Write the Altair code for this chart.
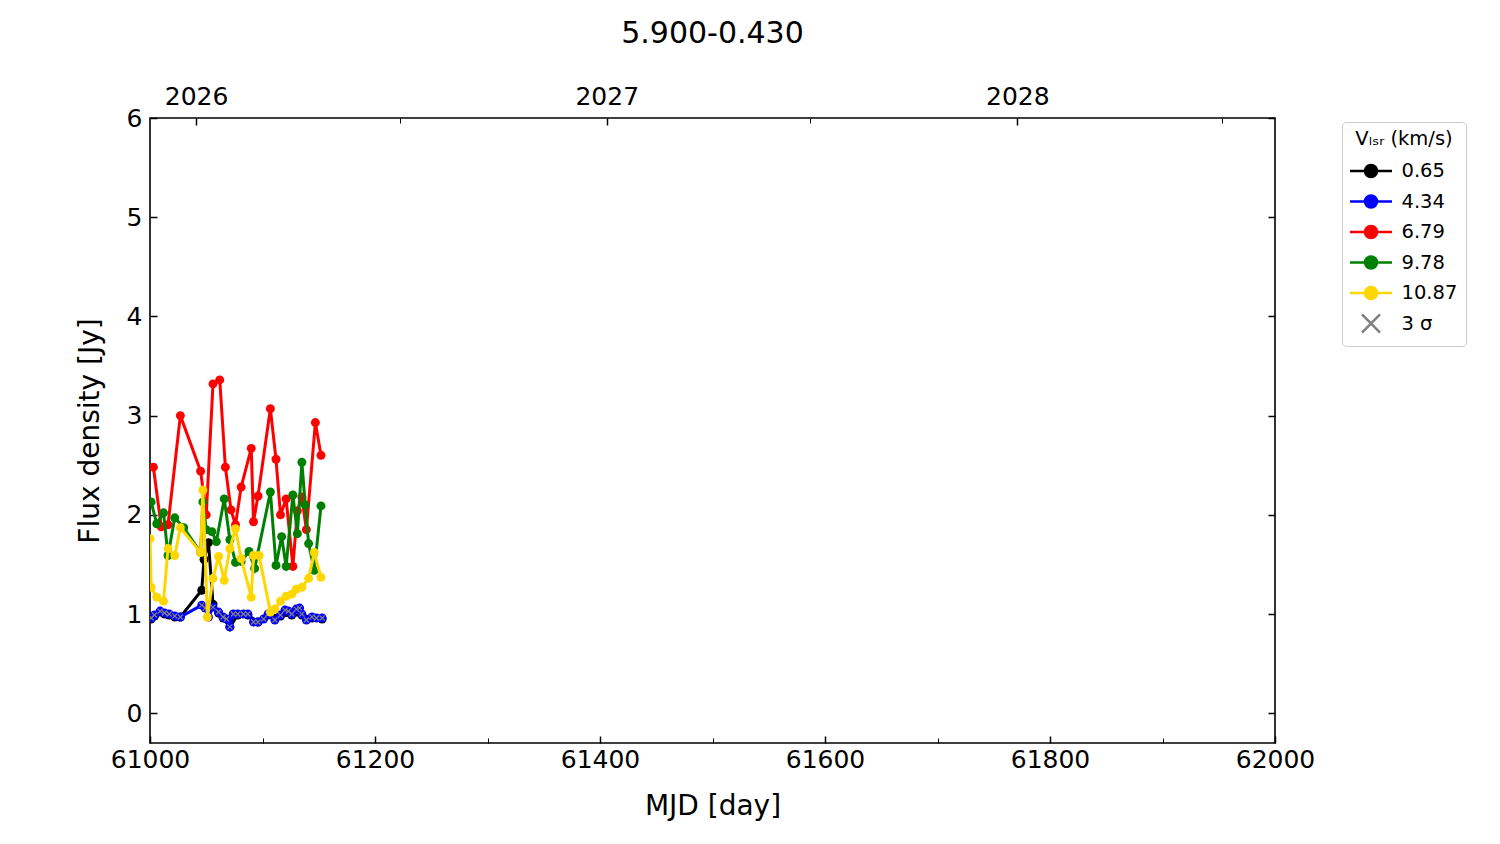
import altair as alt
import pandas as pd

FONT = "DejaVu Sans"

series_names = ["0.65", "4.34", "6.79", "9.78", "10.87"]
series_colors = ["#000000", "#0000ff", "#ff0000", "#008000", "#ffd700"]
sigma_name = "3 σ"
sigma_color = "#808080"

black_mjd = [61001, 61004, 61009, 61013, 61017, 61022, 61027, 61046, 61048, 61052, 61056, 61061,
             61065, 61071, 61078, 61087, 61096, 61105, 61116, 61126, 61135, 61144, 61153]
black_flux = [0.95, 0.98, 1.02, 1.00, 0.99, 0.97, 0.97, 1.24, 1.55, 1.72, 1.10, 1.01,
              0.96, 0.87, 0.99, 0.99, 0.92, 0.99, 0.98, 0.99, 0.99, 0.96, 0.95]

blue_mjd = [61001, 61004, 61009, 61013, 61017, 61022, 61027, 61046, 61049, 61052, 61056, 61061,
            61065, 61068, 61071, 61074, 61078, 61083, 61087, 61092, 61096, 61101, 61105, 61111,
            61116, 61120, 61123, 61126, 61130, 61133, 61135, 61139, 61144, 61148, 61153]
blue_flux = [0.96, 0.99, 1.03, 1.01, 1.00, 0.98, 0.97, 1.09, 1.06, 0.97, 1.07, 1.02,
             0.97, 0.95, 0.87, 1.00, 1.00, 1.00, 1.00, 0.92, 0.92, 0.95, 1.00, 0.94,
             0.99, 1.04, 1.03, 1.00, 1.05, 1.06, 1.00, 0.94, 0.97, 0.96, 0.96]

red_mjd = [61003, 61010, 61016, 61027, 61045, 61050, 61056, 61062, 61067, 61072, 61076, 61081,
           61090, 61092, 61096, 61107, 61112, 61116, 61121, 61127, 61131, 61135, 61139, 61147, 61152]
red_flux = [2.48, 1.88, 1.90, 3.00, 2.44, 2.00, 3.32, 3.36, 2.48, 2.05, 1.90, 2.28,
            2.67, 1.93, 2.19, 3.07, 2.56, 2.00, 2.16, 1.48, 2.04, 2.18, 1.85, 2.93, 2.60]

green_mjd = [61001, 61006, 61012, 61016, 61022, 61030, 61045, 61047, 61050, 61055, 61059, 61066,
             61071, 61076, 61081, 61088, 61093, 61107, 61112, 61117, 61121, 61127, 61131, 61135,
             61138, 61141, 61146, 61152]
green_flux = [2.13, 1.91, 2.02, 1.59, 1.97, 1.87, 1.62, 2.13, 1.85, 1.83, 1.73, 2.16,
              1.75, 1.52, 1.53, 1.63, 1.46, 2.23, 1.49, 1.78, 1.48, 2.20, 1.81, 2.53,
              2.10, 1.71, 1.44, 2.09]

yellow_mjd = [61000, 61001, 61006, 61012, 61016, 61022, 61027, 61045, 61047, 61051, 61056, 61061,
              61066, 61071, 61076, 61081, 61090, 61092, 61097, 61107, 61111, 61116, 61121, 61126,
              61130, 61135, 61141, 61146, 61152]
yellow_flux = [1.76, 1.27, 1.17, 1.13, 1.66, 1.59, 1.87, 1.62, 2.25, 0.97, 1.36, 1.58,
               1.34, 1.66, 1.86, 1.56, 1.17, 1.59, 1.59, 1.02, 1.05, 1.13, 1.18, 1.20,
               1.25, 1.27, 1.36, 1.62, 1.37]

sigma_mjd = list(blue_mjd)
sigma_flux = [0.96, 0.99, 1.03, 1.01, 1.00, 0.98, 0.97, 1.09, 1.06, 0.97, 1.07, 1.02,
              0.97, 0.95, 0.87, 1.00, 1.00, 1.00, 1.00, 0.92, 0.92, 0.95, 1.00, 0.94,
              0.99, 1.04, 1.03, 1.00, 1.05, 1.06, 1.00, 0.94, 0.97, 0.96, 0.96]

x_major = [61000, 61200, 61400, 61600, 61800, 62000]
x_minor = [61100, 61300, 61500, 61700, 61900]
y_ticks = [0, 1, 2, 3, 4, 5, 6]
year_mjd = [61041, 61406, 61771]
year_labels = ["2026", "2027", "2028"]
halfyear_mjd = [61222, 61587, 61953]

rows = []
for name, ms, fs in [(series_names[0], black_mjd, black_flux),
                     (series_names[1], blue_mjd, blue_flux),
                     (series_names[2], red_mjd, red_flux),
                     (series_names[3], green_mjd, green_flux),
                     (series_names[4], yellow_mjd, yellow_flux),
                     (sigma_name, sigma_mjd, sigma_flux)]:
    for m, f in zip(ms, fs):
        rows.append({"series": name, "mjd": m, "flux": f})
df = pd.DataFrame(rows)

xs = alt.Scale(domain=[61000, 62000], nice=False, zero=False)
ys = alt.Scale(domain=[-0.3, 6], nice=False, zero=False)
domain = series_names + [sigma_name]
crange = series_colors + [sigma_color]
cscale = alt.Scale(domain=domain, range=crange)

line_circle = "M-1.235,0L1.235,0M0.353,0A0.353,0.353,0,1,1,-0.353,0A0.353,0.353,0,1,1,0.353,0Z"
xpath_leg = "M-0.53,-0.53L0.53,0.53M-0.53,0.53L0.53,-0.53"
shape_range = [line_circle] * 5 + [xpath_leg]
xpath = "M-1,-1L1,1M-1,1L1,-1"

X = lambda ax=None: alt.X("mjd:Q", scale=xs, axis=ax)
Y = lambda ax=None: alt.Y("flux:Q", scale=ys, axis=ax)

layers = []
for name, col in zip(series_names, series_colors):
    line = alt.Chart().transform_filter(alt.datum.series == name).mark_line(
        strokeWidth=3, clip=True, color=col).encode(x=X(), y=Y())
    pts = alt.Chart().transform_filter(alt.datum.series == name).mark_point(
        filled=True, size=80, opacity=1, clip=True, color=col).encode(x=X(), y=Y())
    layers += [line, pts]
    if name == series_names[1]:
        cross = alt.Chart().transform_filter(alt.datum.series == sigma_name).mark_point(
            shape=xpath, filled=False, size=25, strokeWidth=1.2, opacity=1, clip=True,
            color=sigma_color).encode(x=X(), y=Y())
        layers.append(cross)

leg = alt.Legend(
    title="Vₗₛᵣ (km/s)", orient="none", legendX=1192, legendY=4,
    titleFont=FONT, titleFontSize=19.5, titleFontWeight="normal", titleColor="black",
    titleAnchor="middle", titlePadding=3,
    labelFont=FONT, labelFontSize=19.5, labelColor="black", labelOffset=12,
    symbolSize=1156, symbolStrokeWidth=2.5, symbolOffset=2.5, rowPadding=0.5,
    padding=8, strokeColor="#cccccc", fillColor="white", cornerRadius=4,
)
legend_layer = alt.Chart().mark_point(
    filled=True, strokeWidth=2.5, opacity=1, size=0, clip=True).encode(
    x=X(), y=alt.Y("legend_y:Q", scale=ys, axis=None),
    fill=alt.Fill("series:N", scale=cscale, legend=leg),
    stroke=alt.Stroke("series:N", scale=cscale, legend=leg),
    shape=alt.Shape("series:N", scale=alt.Scale(domain=domain, range=shape_range), legend=leg),
).transform_calculate(legend_y="-100")

common = dict(grid=False, domain=False, tickColor="black", labelColor="black",
              labelFont=FONT, titleFont=FONT, titleColor="black", titleFontWeight="normal")

ax_bottom = alt.Axis(orient="bottom", values=x_major, tickSize=7, offset=-7, tickWidth=1.5,
                     labelFontSize=25, labelPadding=4, format="d", labelFlush=False,
                     labelOverlap=False, title="MJD [day]", titleFontSize=28, titlePadding=20,
                     **common)
ax_bottom_minor = alt.Axis(orient="bottom", values=x_minor, tickSize=5, offset=-5, tickWidth=1,
                           labels=False, title=None, **common)
ax_left = alt.Axis(orient="left", values=y_ticks, tickSize=7, offset=-7, tickWidth=1.5,
                   labelFontSize=25, labelPadding=8, labelFlush=False, labelOverlap=False,
                   title="Flux density [Jy]", titleFontSize=28, titlePadding=22, **common)
ax_right = alt.Axis(orient="right", values=y_ticks, tickSize=7, offset=-7, tickWidth=1.5,
                    labels=False, title=None, **common)
label_expr = " : ".join(
    [f"datum.value == {m} ? '{l}'" for m, l in zip(year_mjd, year_labels)]) + " : ''"
ax_top = alt.Axis(orient="top", values=year_mjd, tickSize=7, offset=-7, tickWidth=1.5,
                  labelFontSize=25, labelPadding=9, labelExpr=label_expr, labelFlush=False,
                  labelOverlap=False, title=None, **common)
ax_top_minor = alt.Axis(orient="top", values=halfyear_mjd, tickSize=5, offset=-5, tickWidth=1,
                        labels=False, title=None, **common)

def guide(xa, ya):
    return alt.Chart().transform_filter("false").mark_point(opacity=0).encode(x=X(xa), y=Y(ya))

guides = [guide(ax_bottom, ax_left), guide(ax_bottom_minor, ax_right),
          guide(ax_top, None), guide(ax_top_minor, None)]

chart = alt.layer(*guides, *layers, legend_layer, data=df).resolve_axis(
    x="independent", y="independent"
).properties(
    width=1125, height=625,
    title=alt.Title("5.900-0.430", fontSize=30, font=FONT, fontWeight="normal",
                    color="black", anchor="middle", offset=35),
    autosize=alt.AutoSizeParams(type="none"),
    padding={"left": 142, "top": 110, "right": 200, "bottom": 80},
).configure_view(stroke="black", strokeWidth=1.6)

chart.save("out.html", embed_options={"renderer": "svg", "actions": False})
